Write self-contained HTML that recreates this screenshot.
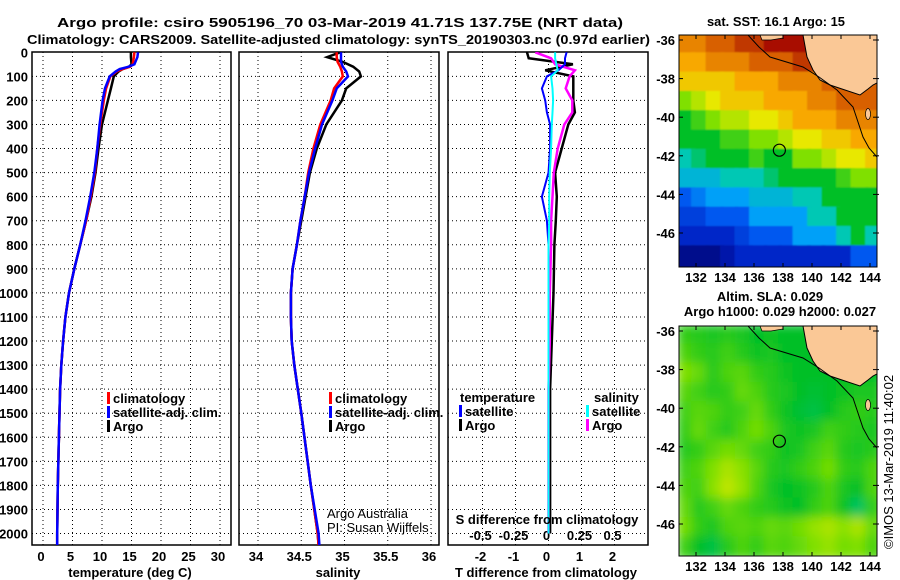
<!DOCTYPE html>
<html><head><meta charset="utf-8"><style>
body{margin:0;background:#fff}
svg{display:block}
text{font-family:"Liberation Sans",sans-serif;font-weight:bold;font-size:13px;fill:#000}
.n{font-weight:normal}
</style></head><body>
<svg id="fig" width="900" height="580" viewBox="0 0 900 580" xmlns="http://www.w3.org/2000/svg">
<defs>
<clipPath id="c1"><rect x="32" y="52" width="199" height="493"/></clipPath>
<clipPath id="c2"><rect x="239" y="52" width="200" height="493"/></clipPath>
<clipPath id="c3"><rect x="448" y="52" width="200" height="493"/></clipPath>
<clipPath id="cm1"><rect x="679" y="35" width="198" height="232"/></clipPath>
<clipPath id="cm2"><rect x="679" y="326" width="198" height="230"/></clipPath>
<filter id="blur" x="-5%" y="-5%" width="110%" height="110%"><feGaussianBlur stdDeviation="5"/></filter>
<filter id="blur1"><feGaussianBlur stdDeviation="0.8"/></filter>
</defs>
<text x="57" y="27" font-size="16" textLength="566" lengthAdjust="spacingAndGlyphs">Argo profile: csiro 5905196_70 03-Mar-2019 41.71S 137.75E (NRT data)</text>
<text x="27" y="44" font-size="16" textLength="623" lengthAdjust="spacingAndGlyphs">Climatology: CARS2009. Satellite-adjusted climatology: synTS_20190303.nc (0.97d earlier)</text>
<text x="707" y="26" font-size="14" textLength="138" lengthAdjust="spacingAndGlyphs">sat. SST: 16.1 Argo: 15</text>
<text x="770" y="301" text-anchor="middle">Altim. SLA: 0.029</text>
<text x="780" y="316" text-anchor="middle">Argo h1000: 0.029 h2000: 0.027</text>
<text class="n" transform="translate(893,549) rotate(-90)" font-size="13">©IMOS 13-Mar-2019 11:40:02</text>
<g id="g"></g>
</svg>
<script>
// ---- data ----
const depthsT = [0,20,50,60,70,80,100,150,200,300,400,500,600,700,800,900,1000,1100,1200,1300,1400,1500,1600,1800,2000,2050];
const climT = [15.5,15.4,15.2,14.8,13.5,12.5,11.4,10.7,10.3,9.7,9.2,8.8,8.1,7.3,6.3,5.3,4.4,3.8,3.4,3.1,2.9,2.8,2.7,2.5,2.4,2.4];
const satT  = [16.1,16.0,15.5,14.5,13.0,12.3,11.3,10.5,10.1,9.6,9.2,8.7,8.0,7.2,6.3,5.3,4.4,3.8,3.4,3.1,2.9,2.8,2.7,2.5,2.4,2.4];
const argoT = [14.9,14.9,15.0,14.6,13.5,12.8,12.0,11.5,11.0,10.0,9.4,8.9,8.2,7.3,6.3,5.3,4.4,3.8,3.4,3.1,2.9,2.8,2.7,2.5,2.4,2.4];
const depthsS = [0,20,40,60,80,100,150,200,300,400,500,600,700,800,900,1000,1100,1200,1300,1500,1800,2000,2050];
const climS = [34.91,34.91,34.92,34.95,34.97,34.98,34.88,34.84,34.72,34.64,34.58,34.54,34.49,34.45,34.40,34.38,34.38,34.39,34.42,34.50,34.61,34.69,34.70];
const satS  = [34.96,34.96,34.96,34.98,35.02,35.04,34.91,34.86,34.74,34.66,34.59,34.54,34.49,34.45,34.40,34.38,34.38,34.39,34.42,34.50,34.61,34.70,34.71];
const argoS = [34.95,34.80,34.98,35.10,35.17,35.19,35.02,34.97,34.79,34.68,34.60,34.55,34.50,34.45,34.40,34.38,34.38,34.39,34.42,34.50,34.61,34.69,34.70];
const depthsD = [0,25,50,75,100,150,200,250,300,400,500,600,700,800,1000,1200,1400,1600,1800,2000];
const dTArgo = [-0.65,-0.6,0.74,-0.1,0.75,0.75,0.75,0.8,0.6,0.4,0.2,0.25,0.22,0.18,0.15,0.1,0.05,0.05,0.05,0.05];
const dTSat  = [0.55,0.5,0.5,0.3,-0.05,-0.2,-0.1,-0.05,0.05,0.05,0.0,-0.2,-0.05,0,0,0,0,0,0,0];
const dSArgo = [-0.1,0.02,0.05,0.2,0.16,0.13,0.18,0.18,0.12,0.07,0.04,0.03,0.02,0.02,0.01,0.01,0,0,0,0];
const dSSat  = [0.05,0.05,0.06,0.07,0.02,0.03,0.035,0.03,0.025,0.02,0.01,0.005,0.005,0,0,0,0,0,0,0];
const depthTicks = [0,100,200,300,400,500,600,700,800,900,1000,1100,1200,1300,1400,1500,1600,1700,1800,1900,2000];
const tempTicks = [0,5,10,15,20,25,30];
const salTicks = [34,34.5,35,35.5,36];
const salTickLabels = ['34','34.5','35','35.5','36'];
const dTTicks = [-2,-1,0,1,2];
const dSTicks = [-0.5,-0.25,0,0.25,0.5];
const dSTickLabels = ['-0.5','-0.25','0','0.25','0.5'];
const mapLonTicks = [132,134,136,138,140,142,144];
const mapLatTicks = [-36,-38,-40,-42,-44,-46];
const sstGrid = [
[8.5,8.5,9,9,9.5,9.5,10,10,10,9.5,10,10,10,10],
[8,8,8.5,8.5,8.5,9,9,9,9.5,9.5,9,9,9,9],
[7.5,7.5,7.5,7.5,8,8,8,8.5,8.5,8.5,9,9,9,9],
[6,6.5,7,7.5,7.5,7.5,8,8,8,8.5,8.5,9,9,9],
[5,5.5,6,6.5,6.5,7,7,7.5,8,8,8,8.5,8.5,8.5],
[5,5,5,5.5,5.5,6,6,6.5,7,7,7.5,7.5,8,8],
[4,4.5,5,5,5,5.5,5,5,6,6,6.5,7,7,7.5],
[3.5,3.5,3.5,4,4,4,4.5,5,5,5,5,5.5,6,6],
[2,2.5,3,3,3,3.5,3.5,3.5,4,4,5,5,5,5],
[1.5,1.5,2,2,2,3,3,3,3,4,4,5,5,5],
[1,1,1,1,1.5,2,2,2,3,3,3,4,5,4],
[0,0,0,0.5,1,1,1,1,1,1,1,1,2,2]];
const slaGrid = [
[5.4,5.3,5.2,5.3,5.2,5.0,5.1,5.0,5.0,5.0,5.0,5,5,5],
[5.6,5.4,5.3,5.5,5.3,5.1,5.2,5.0,5.0,5.0,5.0,5,5,5],
[6.0,5.8,5.3,5.6,5.7,5.4,5.3,5.1,5.0,5.0,5.0,5.0,5,5],
[5.7,5.5,5.3,5.4,5.8,5.6,5.3,5.2,5.0,4.9,5.0,5.1,5.2,5.2],
[5.5,5.7,5.6,5.4,5.5,5.8,5.4,5.1,4.9,4.8,5.0,5.3,5.4,5.3],
[5.4,5.8,5.5,5.3,5.6,5.9,5.6,5.2,5.1,5.2,5.5,5.4,5.3,5.2],
[5.3,5.4,5.7,5.9,5.8,5.5,5.4,5.1,5.2,5.5,5.7,5.3,5.2,5.3],
[5.5,5.6,6.0,6.4,6.1,5.7,5.3,5.2,5.4,5.6,5.9,5.4,5.3,5.6],
[5.6,5.5,6.1,6.6,6.2,5.6,5.2,5.0,5.1,5.3,5.6,5.2,5.0,5.6],
[5.8,5.3,5.5,5.8,5.6,5.4,5.3,5.1,5.0,5.4,5.6,5.1,4.6,5.4],
[5.9,5.4,5.2,5.6,5.7,5.6,5.8,5.7,5.9,6.2,6.4,6.1,6.4,5.8],
[5.5,5.0,4.8,5.3,5.6,5.4,5.7,5.6,5.8,6.0,6.2,5.9,6.0,5.6]];
const floatLon = 137.75, floatLat = -41.71;

// ---- helpers ----
const NS='http://www.w3.org/2000/svg', G=document.getElementById('g');
function mk(tag,attrs,parent){const e=document.createElementNS(NS,tag);for(const k in attrs)e.setAttribute(k,attrs[k]);(parent||G).appendChild(e);return e;}
const yD = d => 52.3 + 0.2406*d;
const xT = t => 43 + 5.9*t;
const xS = s => 258 + 86.5*(s-34);
const xDT = v => 548.5 + 33*v;
const xDS = v => 548.5 + 132*v;
function txt(x,y,s,anchor,cls){const t=mk('text',{x:x,y:y,'text-anchor':anchor||'start'});if(cls)t.setAttribute('class',cls);t.textContent=s;return t;}

function panel(x0,x1,xs,name){
  const g=mk('g',{});
  
  
  depthTicks.forEach(d=>{ if(d>0){const l=mk('line',{x1:x0,x2:x1,y1:yD(d),y2:yD(d),stroke:'#000','stroke-dasharray':'1 3'},g);
    }});
  xs.forEach(x=>{const l=mk('line',{x1:x,x2:x,y1:52,y2:545,stroke:'#000','stroke-dasharray':'1 3'},g);
    });
  const r=mk('rect',{x:x0,y:52,width:x1-x0,height:493,fill:'none',stroke:'#000','stroke-width':1.5},g);
  
  return g;
}
function line(xs,ds,fx,color,clip,name,w){
  const p=mk('polyline',{points:xs.map((v,i)=>fx(v).toFixed(1)+','+yD(ds[i]).toFixed(1)).join(' '),fill:'none',stroke:color,'stroke-width':w||2.5,'clip-path':'url(#'+clip+')'});
  
  
}
function legendItem(x,y,color,label,name){
  const r=mk('rect',{x:x,y:y-11,width:3,height:12,fill:color});
  
  
  const t=txt(x+6,y,label);
  
  
}

depthTicks.forEach(d=>{const t=txt(28,yD(d)+5,String(d),'end');
  });

// panel 1
panel(32,231,tempTicks.map(xT),'temperature');
tempTicks.forEach(v=>{const t=txt(xT(v)-2,561,String(v),'middle');
  });
line(argoT,depthsT,xT,'#000','c1','argo-temperature-line');
line(climT,depthsT,xT,'#f00','c1','climatology-temperature-line');
line(satT,depthsT,xT,'#00f','c1','satellite-temperature-line');
{const t=txt(130,577,'temperature (deg C)','middle');}
legendItem(107,403,'#f00','climatology','legend-climatology');
legendItem(107,417,'#00f','satellite-adj. clim.','legend-satellite-adj');
legendItem(107,431,'#000','Argo','legend-argo');

// panel 2
panel(239,439,salTicks.map(xS),'salinity');
salTicks.forEach((v,i)=>{const t=txt(xS(v)-2,561,salTickLabels[i],'middle');
  });
line(argoS,depthsS,xS,'#000','c2','argo-salinity-line');
line(climS,depthsS,xS,'#f00','c2','climatology-salinity-line');
line(satS,depthsS,xS,'#00f','c2','satellite-salinity-line');
{const t=txt(338,577,'salinity','middle');}
legendItem(329,403,'#f00','climatology','legend-climatology-2');
legendItem(329,417,'#00f','satellite-adj. clim.','legend-satellite-adj-2');
legendItem(329,431,'#000','Argo','legend-argo-2');
{const t=txt(327,518,'Argo Australia','start','n');
 const t2=txt(327,532,'PI: Susan Wijffels','start','n');}

// panel 3
panel(448,648,dTTicks.map(xDT),'difference');
dTTicks.forEach(v=>{const t=txt(xDT(v)-2,561,String(v),'middle');
  });
dSTicks.forEach((v,i)=>{const t=txt(xDS(v)-2,540,dSTickLabels[i],'middle');
  });
line(dTArgo,depthsD,xDT,'#000','c3','argo-t-difference-line');
line(dSArgo,depthsD,xDS,'#f0f','c3','argo-s-difference-line');
line(dTSat,depthsD,xDT,'#00f','c3','satellite-t-difference-line',2);
line(dSSat,depthsD,xDS,'#0ff','c3','satellite-s-difference-line',2);
{const t=txt(546,577,'T difference from climatology','middle');
 const t2=txt(547,524,'S difference from climatology','middle');
 const t3=txt(460,402,'temperature');
 const t4=txt(594,402,'salinity');}
legendItem(459,416,'#00f','satellite','legend-t-satellite');
legendItem(459,430,'#000','Argo','legend-t-argo');
legendItem(586,416,'#0ff','satellite','legend-s-satellite');
legendItem(586,430,'#f0f','Argo','legend-s-argo');

// ---- maps ----
const cmap=[[0,10,140],[0,40,200],[0,88,240],[0,160,248],[0,200,180],[0,191,40],[128,224,0],[232,232,0],[248,168,0],[216,96,0],[168,16,0]];
function col(v){v=Math.max(0,Math.min(10,v));const i=Math.min(9,Math.floor(v)),f=v-i;const a=cmap[i],b=cmap[i+1];
  return 'rgb('+a.map((c,k)=>Math.round(c+(b[k]-c)*f)).join(',')+')';}
function drawMap(grid,top,clip,name,filt){
  const lonX = lon => 696 + (lon-132)*14.5;
  const latY = lat => top + 5 + (-36-lat)*19.3;
  const g=mk('g',{'clip-path':'url(#'+clip+')'});
  
  
  const cells=mk('g',filt?{filter:'url(#'+filt+')'}:{},g);
  grid.forEach((row,ri)=>row.forEach((v,ci)=>{
    const x0=lonX(130.8+ci), y0=latY(-35.74-ri);
    const r=mk('rect',{x:(x0-2).toFixed(1),y:(y0-2).toFixed(1),width:(14.5+4).toFixed(1),height:(19.3+4).toFixed(1),fill:col(v)},cells);
    
    
  }));
  const X=dx=>679+dx, Y=dy=>top+dy;
  const land=[[124,0],[128,22],[134,35],[141,45],[151,50],[166,55],[181,60],[189,54],[194,50],[198,48],[198,0]];
  const lp=mk('polygon',{points:land.map(p=>X(p[0])+','+Y(p[1])).join(' '),fill:'#fac896',stroke:'#000','stroke-width':1},g);
  
  const land2=[[81,0],[83,5],[92,5],[104,3],[104,0]];
  const lp2=mk('polygon',{points:land2.map(p=>X(p[0])+','+Y(p[1])).join(' '),fill:'#fac896',stroke:'#000','stroke-width':0.7},g);
  
  const isl=mk('ellipse',{cx:X(189),cy:Y(79),rx:2.5,ry:5.5,fill:'#fac896',stroke:'#000','stroke-width':0.7},g);
  
  const shelf=[[69,0],[80,12],[91,22],[124,32],[140,42],[158,55],[174,72],[184,102],[190,113],[198,122]];
  const sp=mk('polyline',{points:shelf.map(p=>X(p[0])+','+Y(p[1])).join(' '),fill:'none',stroke:'#000','stroke-width':1},g);
  
  const c=mk('circle',{cx:lonX(floatLon),cy:latY(floatLat),r:6,fill:'none',stroke:'#000','stroke-width':1.2});
  
  const fr=mk('rect',{x:679,y:top,width:198,height:top===35?232:230,fill:'none',stroke:'#000','stroke-width':1});
  
  const bot=top===35?267:556;
  mapLonTicks.forEach(l=>{
    mk('line',{x1:lonX(l),x2:lonX(l),y1:top,y2:top+4,stroke:'#000'});
    mk('line',{x1:lonX(l),x2:lonX(l),y1:bot,y2:bot-4,stroke:'#000'});
    const t=txt(lonX(l),bot+15,String(l),'middle');
    });
  mapLatTicks.forEach(l=>{
    mk('line',{x1:679,x2:683,y1:latY(l),y2:latY(l),stroke:'#000'});
    mk('line',{x1:873,x2:879,y1:latY(l),y2:latY(l),stroke:'#000'});
    const t=txt(675,latY(l)+5,String(l),'end');
    });
}
drawMap(sstGrid,35,'cm1','sst-map','blur1');
drawMap(slaGrid,326,'cm2','sla-map','blur');
</script>
</body></html>
